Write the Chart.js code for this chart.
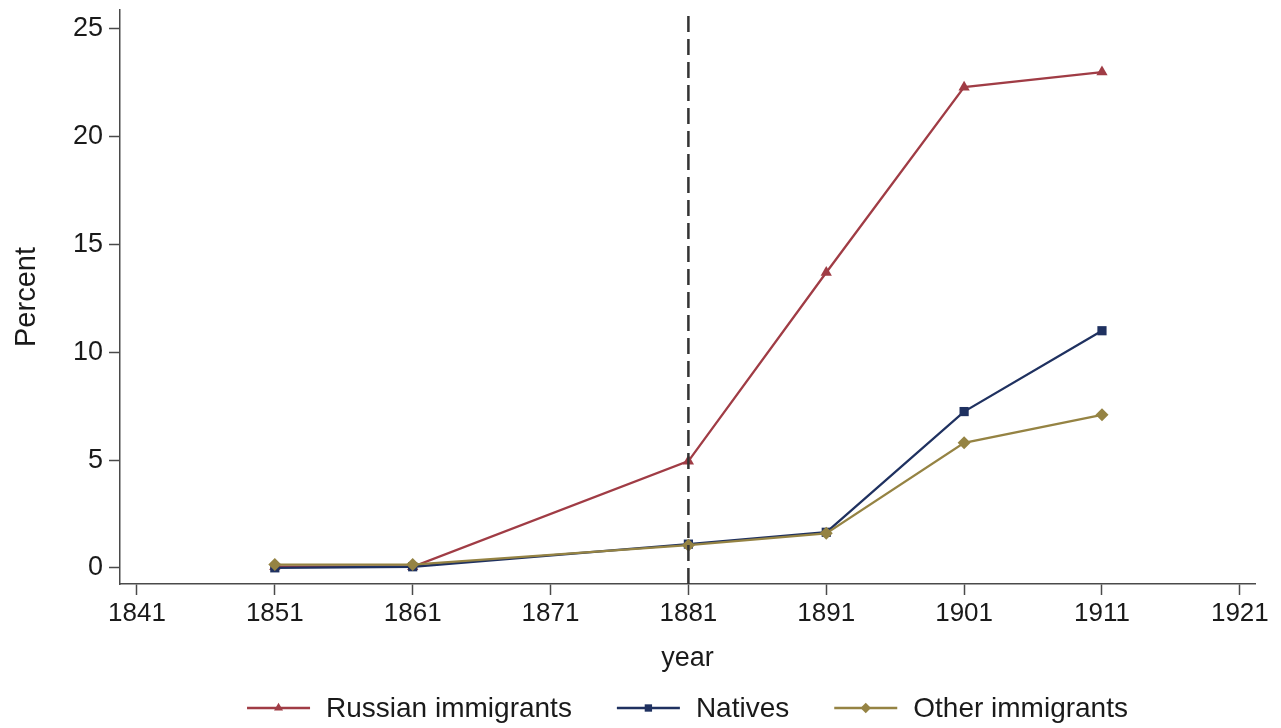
<!DOCTYPE html>
<html>
<head>
<meta charset="utf-8">
<script src="https://cdn.jsdelivr.net/npm/chart.js@4.4.1/dist/chart.umd.min.js"></script>
<style>
  html, body { margin: 0; padding: 0; background: #fff; }
  #wrap { width: 1281px; height: 728px; }
</style>
</head>
<body>
<div id="wrap"><canvas id="grafico" width="1281" height="728"></canvas></div>
<script>
const years = [1851, 1861, 1881, 1891, 1901, 1911];
const russian = [0.05, 0.05, 4.95, 13.7, 22.3, 23.0];
const natives = [0.0, 0.05, 1.1, 1.65, 7.25, 11.0];
const others = [0.15, 0.15, 1.05, 1.6, 5.8, 7.1];
const xTicks = [1841, 1851, 1861, 1871, 1881, 1891, 1901, 1911, 1921];
const yTicks = [0, 5, 10, 15, 20, 25];
const refYear = 1881;

const fontFam = '"Liberation Sans", Arial, Helvetica, sans-serif';
const axisColor = '#4a4a4a';
const textColor = '#1a1a1a';

const toPoints = arr => arr.map((v, i) => ({ x: years[i], y: v }));

const series = [
  { label: 'Russian immigrants', data: russian, color: '#a03c45', style: 'triangle', r: 6.5, order: 3 },
  { label: 'Natives', data: natives, color: '#1f3160', style: 'rect', r: 6.5, order: 2 },
  { label: 'Other immigrants', data: others, color: '#958343', style: 'rectRot', r: 6.5, order: 1 }
];

// dashed line at the reference year
const refLine = {
  id: 'refLine',
  afterDatasetsDraw(chart) {
    const { ctx, chartArea, scales } = chart;
    const x = scales.x.getPixelForValue(refYear);
    ctx.save();
    ctx.strokeStyle = '#333';
    ctx.lineWidth = 2.5;
    ctx.setLineDash([16, 7]);
    ctx.beginPath();
    ctx.moveTo(x, chartArea.bottom);
    ctx.lineTo(x, chartArea.top);
    ctx.stroke();
    ctx.restore();
  }
};

// legend at the bottom: line + marker + label, centered under the plot
const bottomLegend = {
  id: 'bottomLegend',
  afterDraw(chart) {
    const { ctx, chartArea } = chart;
    const lineLen = 63, lineGap = 16, itemGap = 45;
    ctx.save();
    ctx.font = '28px ' + fontFam;
    const widths = series.map(s => ctx.measureText(s.label).width);
    const total = widths.reduce((a, w) => a + lineLen + lineGap + w, 0) + itemGap * (series.length - 1);
    let x = (chartArea.left + chartArea.right) / 2 - total / 2;
    const y = 708;
    series.forEach((s, i) => {
      ctx.strokeStyle = s.color;
      ctx.fillStyle = s.color;
      ctx.lineWidth = 2.5;
      ctx.setLineDash([]);
      ctx.beginPath();
      ctx.moveTo(x, y);
      ctx.lineTo(x + lineLen, y);
      ctx.stroke();
      Chart.helpers.drawPoint(ctx, { pointStyle: s.style, radius: s.r * 0.8, rotation: 0, borderWidth: 0 }, x + lineLen / 2, y);
      ctx.fillStyle = textColor;
      ctx.textBaseline = 'middle';
      ctx.textAlign = 'left';
      ctx.fillText(s.label, x + lineLen + lineGap, y + 1);
      x += lineLen + lineGap + widths[i] + itemGap;
    });
    ctx.restore();
  }
};

const ctx = document.getElementById('grafico').getContext('2d');
new Chart(ctx, {
  type: 'line',
  data: {
    datasets: series.map(s => ({
      label: s.label,
      data: toPoints(s.data),
      borderColor: s.color,
      backgroundColor: s.color,
      borderWidth: 2.3,
      pointStyle: s.style,
      pointRadius: s.r,
      pointHoverRadius: s.r,
      pointBorderWidth: 0,
      tension: 0,
      order: s.order
    }))
  },
  options: {
    responsive: false,
    animation: false,
    layout: { autoPadding: false, padding: { top: 10, right: 26, left: 0, bottom: 49 } },
    plugins: {
      legend: { display: false },
      tooltip: { enabled: false }
    },
    scales: {
      x: {
        type: 'linear',
        min: 1839.77,
        max: 1922.1,
        afterBuildTicks: scale => { scale.ticks = xTicks.map(v => ({ value: v })); },
        afterFit: scale => {
          scale.height = 95;
          scale.paddingLeft = 0;
          scale.paddingRight = 0;
        },
        grid: { drawOnChartArea: false, drawTicks: true, tickLength: 11, color: axisColor, tickWidth: 1.5 },
        border: { display: true, color: axisColor, width: 1.5 },
        ticks: {
          color: textColor,
          font: { family: fontFam, size: 26 },
          padding: 3,
          maxRotation: 0,
          autoSkip: false,
          callback: v => String(v)
        },
        title: {
          display: true,
          text: 'year',
          color: textColor,
          font: { family: fontFam, size: 27 },
          padding: { top: 0 }
        }
      },
      y: {
        min: -0.75,
        max: 25.88,
        afterBuildTicks: scale => { scale.ticks = yTicks.map(v => ({ value: v })); },
        afterFit: scale => {
          scale.width = 120;
          scale.paddingTop = 0;
          scale.paddingBottom = 0;
        },
        grid: { drawOnChartArea: false, drawTicks: true, tickLength: 11, color: axisColor, tickWidth: 1.5 },
        border: { display: true, color: axisColor, width: 1.5 },
        ticks: {
          color: textColor,
          font: { family: fontFam, size: 27 },
          padding: 6,
          callback: v => String(v)
        },
        title: {
          display: true,
          text: 'Percent',
          color: textColor,
          font: { family: fontFam, size: 29 },
          padding: { top: 10, bottom: 0 }
        }
      }
    }
  },
  plugins: [refLine, bottomLegend]
});
</script>
</body>
</html>
